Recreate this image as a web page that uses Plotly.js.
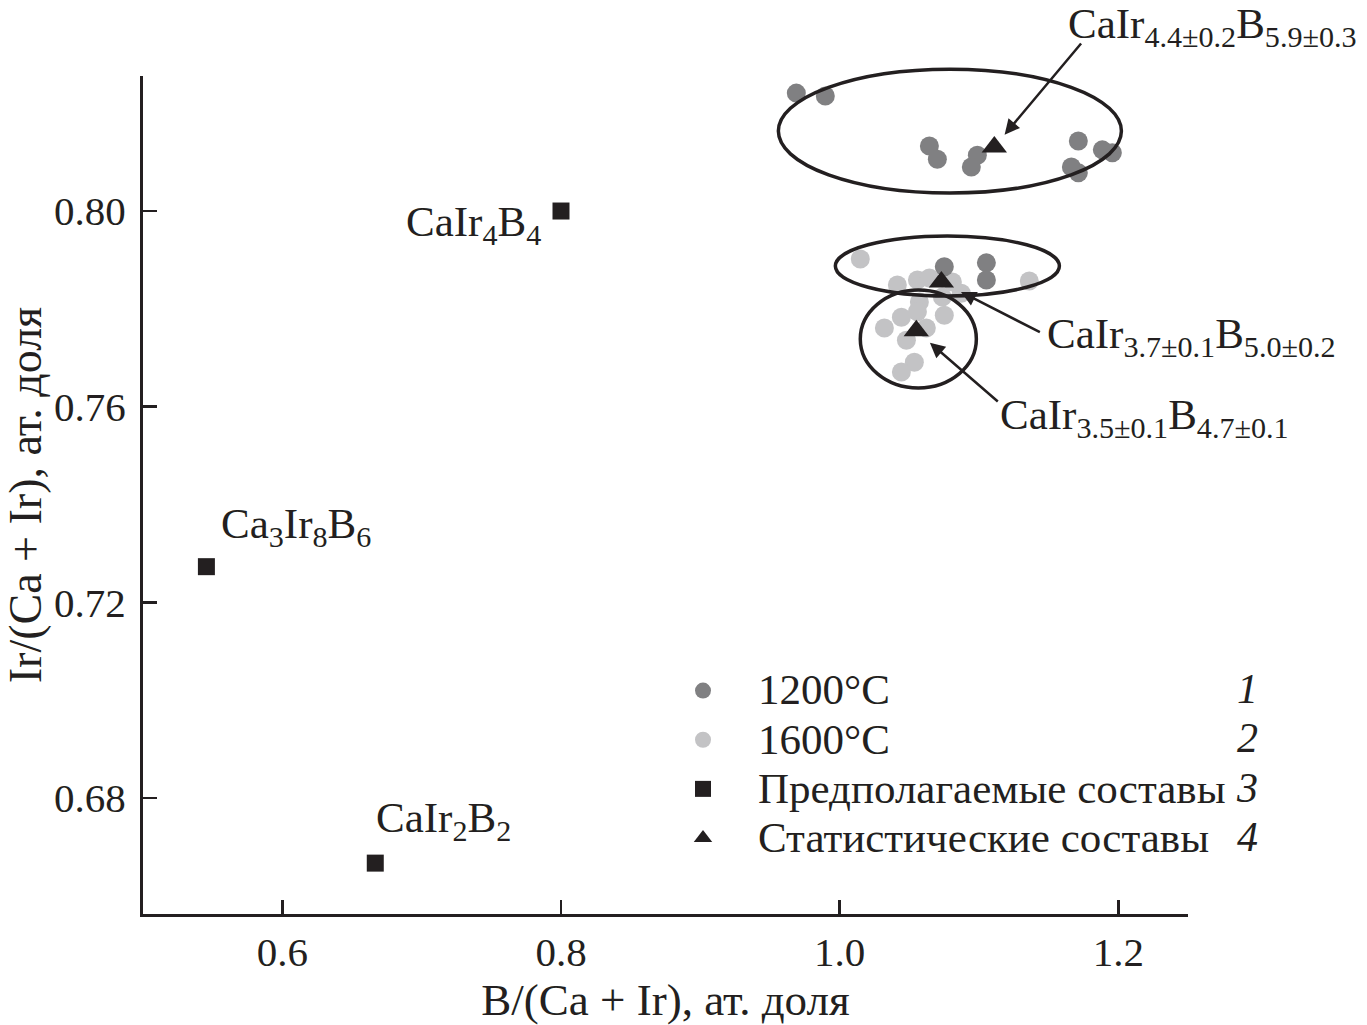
<!DOCTYPE html>
<html>
<head>
<meta charset="utf-8">
<script src="https://cdn.plot.ly/plotly-3.0.1.min.js"></script>
<style>html,body{margin:0;padding:0;background:#fff;}#chart{width:1367px;height:1025px;}</style>
</head>
<body>
<div id="chart"></div>
<script>
// ---- data ----
const x1200 = [0.9689, 0.9897, 1.0644, 1.0701, 1.0988, 1.0945, 1.1713, 1.1885, 1.1957, 1.1663, 1.1713, 1.0751, 1.1053, 1.1053];
const y1200 = [0.8241, 0.8235, 0.8133, 0.8106, 0.8114, 0.8090, 0.8143, 0.8125, 0.8119, 0.8090, 0.8078, 0.7886, 0.7894, 0.7859];

const x1600 = [1.0148, 1.1361, 1.0414, 1.0558, 1.0644, 1.0809, 1.0873, 1.0572, 1.0737, 1.0443, 1.0558, 1.0751, 1.0321, 1.0479, 1.0622, 1.0536, 1.0443];
const y1600 = [0.7902, 0.7857, 0.7849, 0.7859, 0.7863, 0.7855, 0.7832, 0.7814, 0.7824, 0.7783, 0.7794, 0.7787, 0.7761, 0.7736, 0.7761, 0.7691, 0.7671];

const suppNames = ['CaIr<sub>4</sub>B<sub>4</sub>', 'Ca<sub>3</sub>Ir<sub>8</sub>B<sub>6</sub>', 'CaIr<sub>2</sub>B<sub>2</sub>'];
const xSupp = [0.8000, 0.5455, 0.6667];
const ySupp = [0.8000, 0.7273, 0.6667];

const statNames = ['CaIr<sub>4.4±0.2</sub>B<sub>5.9±0.3</sub>', 'CaIr<sub>3.7±0.1</sub>B<sub>5.0±0.2</sub>', 'CaIr<sub>3.5±0.1</sub>B<sub>4.7±0.1</sub>'];
const xStat = [1.1110, 1.0730, 1.0550];
const yStat = [0.8131, 0.7855, 0.7755];

const legendNames = ['1200°C', '1600°C', 'Предполагаемые составы', 'Статистические составы'];
const legendNums = ['1', '2', '3', '4'];

const xTicks = [0.6, 0.8, 1.0, 1.2];
const yTicks = [0.68, 0.72, 0.76, 0.80];

// ---- layout helpers ----
const FONT = 'Liberation Serif, Times New Roman, serif';
const INK = '#231f20';
const xRange = [0.5, 1.25];
const yRange = [0.6563, 0.8276];
const yPaper = v => (v - yRange[0]) / (yRange[1] - yRange[0]);
const big = t => '<span style="font-size:43px">' + t + '</span>';

const traces = [
  {x: x1600, y: y1600, name: big(legendNames[1]), type: 'scatter', mode: 'markers', legendrank: 2,
   marker: {symbol: 'circle', size: 19, color: '#c3c3c5'}},
  {x: x1200, y: y1200, name: big(legendNames[0]), type: 'scatter', mode: 'markers', legendrank: 1,
   marker: {symbol: 'circle', size: 19, color: '#808082'}},
  {x: xSupp, y: ySupp, name: big(legendNames[2]), type: 'scatter', mode: 'markers', legendrank: 3,
   marker: {symbol: 'square', size: 17, color: INK}},
  {x: xStat, y: yStat, name: big(legendNames[3]), type: 'scatter', mode: 'markers', legendrank: 4,
   marker: {symbol: 'triangle-up', size: 22, color: INK}}
];

const ellipses = [
  {x0: 0.9560, x1: 1.2022, y0: 0.80368, y1: 0.8290},
  {x0: 0.9969, x1: 1.1577, y0: 0.78262, y1: 0.79489},
  {x0: 1.0148, x1: 1.0981, y0: 0.76382, y1: 0.78385}
];
const shapes = ellipses.map(e => ({
  type: 'circle', xref: 'x', yref: 'paper',
  x0: e.x0, x1: e.x1, y0: yPaper(e.y0), y1: yPaper(e.y1),
  line: {color: INK, width: 3.5}, fillcolor: 'rgba(0,0,0,0)', layer: 'above'
}));

const annotations = [];
const suppPos = [
  {xanchor: 'right', yanchor: 'middle', xshift: -18, yshift: -14},
  {xanchor: 'left', yanchor: 'middle', xshift: 13, yshift: 40},
  {xanchor: 'left', yanchor: 'middle', xshift: -1, yshift: 42}
];
suppNames.forEach((t, i) => annotations.push(Object.assign({
  x: xSupp[i], y: ySupp[i], xref: 'x', yref: 'y', text: t, showarrow: false,
  font: {family: FONT, size: 43, color: INK}
}, suppPos[i])));
const statLab = [
  {xshift: 72, yshift: 120},
  {xshift: 104, yshift: -55},
  {xshift: 82, yshift: -87}
];
const statArrow = [
  {ax: 88, ay: -105, standoff: 16},
  {ax: 100, ay: 51, standoff: 22},
  {ax: 83, ay: 72, standoff: 18}
];
statNames.forEach((t, i) => {
  annotations.push({
    x: xStat[i], y: yStat[i], xref: 'x', yref: 'y', text: t, showarrow: false,
    xanchor: 'left', yanchor: 'middle', xshift: statLab[i].xshift, yshift: statLab[i].yshift,
    font: {family: FONT, size: 43, color: INK}
  });
  annotations.push({
    x: xStat[i], y: yStat[i], xref: 'x', yref: 'y', text: '', showarrow: true,
    ax: statArrow[i].ax, ay: statArrow[i].ay, standoff: statArrow[i].standoff,
    arrowhead: 2, arrowsize: 1.2, arrowwidth: 2.5, arrowcolor: INK
  });
});
const numY = [689, 738, 788, 837];
legendNums.forEach((n, i) => annotations.push({
  xref: 'paper', yref: 'paper', x: (1260 - 143) / 1045, y: (914 - numY[i]) / 838,
  xanchor: 'right', yanchor: 'middle', text: '<i>' + n + '</i>', showarrow: false,
  font: {family: FONT, size: 42, color: INK}
}));

const layout = {
  width: 1367, height: 1025,
  margin: {l: 143, r: 179, t: 76, b: 111, pad: 0},
  paper_bgcolor: '#ffffff', plot_bgcolor: '#ffffff',
  font: {family: FONT, size: 41, color: INK},
  showlegend: true,
  legend: {
    x: (648 - 143) / 1045, y: (914 - 661) / 838, xanchor: 'left', yanchor: 'top',
    font: {family: FONT, size: 35.5, color: INK}, bgcolor: 'rgba(0,0,0,0)',
    itemwidth: 100, tracegroupgap: 0, traceorder: 'normal'
  },
  xaxis: {
    range: xRange, tickvals: xTicks, ticktext: xTicks.map(v => v.toFixed(1)),
    showgrid: false, zeroline: false, showline: true, linecolor: INK, linewidth: 3,
    ticks: 'inside', ticklen: 14, tickwidth: 2.5, tickcolor: INK,
    ticklabelstandoff: 0,
    tickfont: {family: FONT, size: 41, color: INK},
    title: {text: 'B/(Ca + Ir), ат. доля', font: {family: FONT, size: 45, color: INK}, standoff: 8}
  },
  yaxis: {
    range: yRange, tickvals: yTicks, ticktext: yTicks.map(v => v.toFixed(2)),
    showgrid: false, zeroline: false, showline: true, linecolor: INK, linewidth: 3,
    ticks: 'inside', ticklen: 14, tickwidth: 2.5, tickcolor: INK,
    ticklabelstandoff: 6,
    tickfont: {family: FONT, size: 41, color: INK},
    title: {text: 'Ir/(Ca + Ir), ат. доля', font: {family: FONT, size: 46, color: INK}, standoff: 10}
  },
  shapes: shapes,
  annotations: annotations
};

Plotly.newPlot('chart', traces, layout, {staticPlot: true, displayModeBar: false});
</script>
</body>
</html>
